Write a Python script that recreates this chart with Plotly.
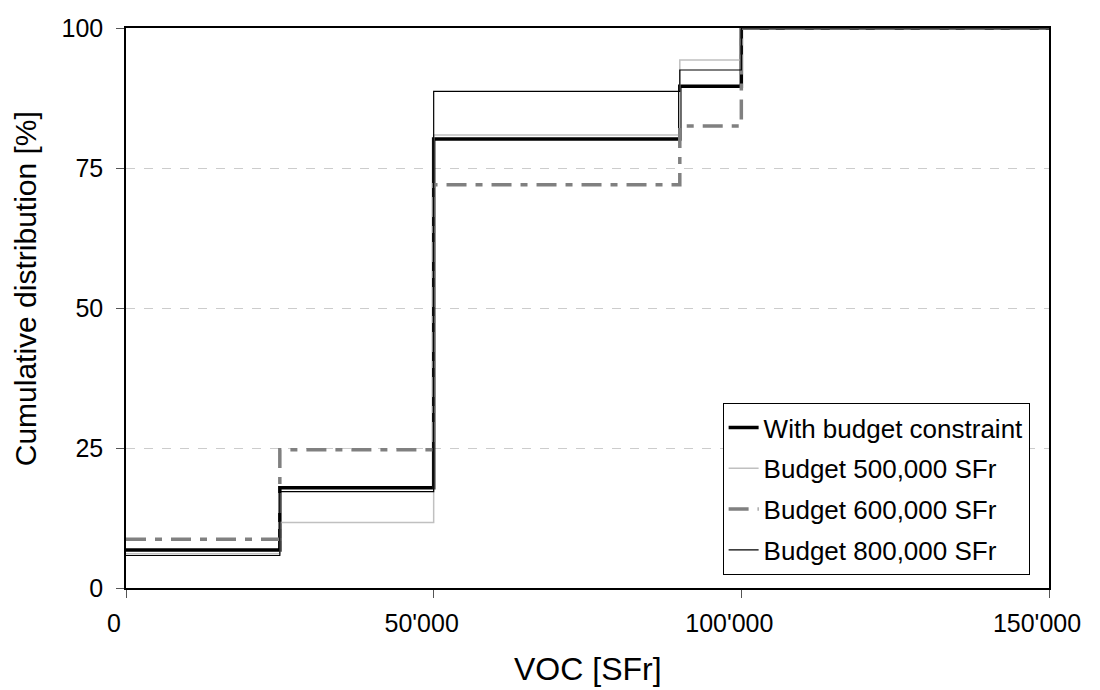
import plotly.graph_objects as go

voc = [0, 25000, 50000, 90000, 100000, 150000]
with_budget = [6.8, 17.9, 80.2, 89.6, 100, 100]
budget_500k = [6.1, 11.7, 80.9, 94.3, 100, 100]
budget_600k = [8.7, 24.7, 72.0, 82.5, 100, 100]
budget_800k = [5.8, 17.2, 88.7, 92.5, 100, 100]

x_tickvals = [0, 50000, 100000, 150000]
x_ticktext = ["0", "50'000", "100'000", "150'000"]
y_tickvals = [0, 25, 50, 75, 100]

series = [
    ("With budget constraint", with_budget, dict(color="#000000", width=3.5)),
    ("Budget 500,000 SFr", budget_500k, dict(color="#c0c0c0", width=1.5)),
    ("Budget 600,000 SFr", budget_600k, dict(color="#808080", width=3.5, dash="20px,9px,7px,9px")),
    ("Budget 800,000 SFr", budget_800k, dict(color="#000000", width=1.2)),
]

fig = go.Figure()
for i, (name, ys, line) in enumerate(series):
    fig.add_trace(go.Scatter(x=voc, y=ys, mode="lines", name=name, line=line,
                             line_shape="hv", legendgroup=f"g{i}"))

font = "Liberation Sans, Arial, sans-serif"
fig.update_layout(
    width=1100, height=690,
    margin=dict(l=118, r=59, t=20, b=110),
    plot_bgcolor="white", paper_bgcolor="white",
    font=dict(family=font, size=25, color="black"),
    showlegend=True,
    legend=dict(x=0.979, y=0.023, xanchor="right", yanchor="bottom",
                bordercolor="black", borderwidth=1, bgcolor="white",
                font=dict(size=26), tracegroupgap=4, itemwidth=30),
    xaxis=dict(range=[0, 150000], tickvals=x_tickvals, ticktext=x_ticktext,
               showgrid=False, zeroline=False, showline=True, linecolor="black", linewidth=1.5,
               mirror=True, ticks="outside", ticklen=8, tickcolor="#555555", automargin=False,
               ticklabelshift=-12, ticklabelstandoff=4),
    yaxis=dict(range=[0, 100], tickvals=y_tickvals,
               showgrid=True, gridcolor="#cccccc", griddash="dash", gridwidth=1,
               zeroline=False, showline=True, linecolor="black", linewidth=1.5,
               mirror=True, ticks="outside", ticklen=8, tickcolor="#555555", automargin=False,
               ticklabelstandoff=8),
    annotations=[
        dict(text="VOC [SFr]", xref="paper", yref="paper", x=0.5, y=-0.180,
             xanchor="center", yanchor="bottom", showarrow=False, font=dict(size=32)),
        dict(text="Cumulative distribution [%]", xref="paper", yref="paper", x=-0.108, y=0.534,
             xanchor="center", yanchor="middle", textangle=-90, showarrow=False, font=dict(size=30)),
    ],
)

fig.write_html("out.html")
